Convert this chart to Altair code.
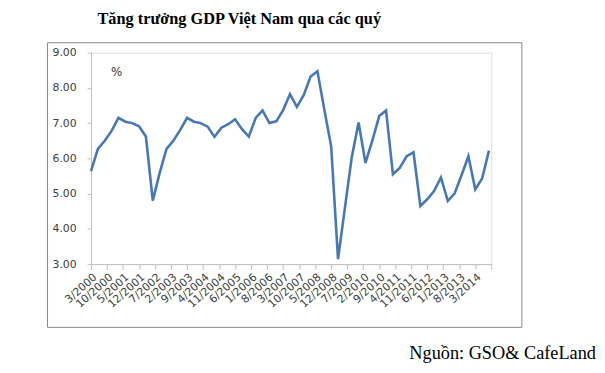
import json
import altair as alt
import pandas as pd

# Quarterly GDP growth (%), Q1/2000 .. Q3/2014
YEARS = list(range(2000, 2015))
VALUES = [5.64, 6.27, 6.50, 6.78, 7.15, 7.04, 7.00, 6.91, 6.62, 4.80,
          5.58, 6.27, 6.50, 6.81, 7.15, 7.04, 7.00, 6.90, 6.61, 6.87,
          6.97, 7.11, 6.83, 6.62, 7.15, 7.36, 7.00, 7.05, 7.37, 7.82,
          7.46, 7.79, 8.32, 8.47, 7.39, 6.34, 3.14, 4.59, 6.03, 7.02,
          5.87, 6.50, 7.20, 7.36, 5.55, 5.73, 6.06, 6.17, 4.65, 4.84,
          5.07, 5.46, 4.79, 5.01, 5.52, 6.06, 5.12, 5.43, 6.22]
TICK_LABELS = ["3/2000", "10/2000", "5/2001", "12/2001", "7/2002", "2/2003",
               "9/2003", "4/2004", "11/2004", "6/2005", "1/2006", "8/2006",
               "3/2007", "10/2007", "5/2008", "12/2008", "7/2009", "2/2010",
               "9/2010", "4/2011", "11/2011", "6/2012", "1/2013", "8/2013",
               "3/2014"]
TITLE = "Tăng trưởng GDP Việt Nam qua các quý"
SOURCE = "Nguồn: GSO& CafeLand"
UNIT = "%"

quarters = [f"Q{q}/{y}" for y in YEARS for q in range(1, 5)][:len(VALUES)]
# month offset from March 2000 (end month of each quarter)
months = [3 * i for i in range(len(VALUES))]
df = pd.DataFrame({"quarter": quarters, "m": months, "gdp": VALUES})

W, H = 405, 214
tick_vals = [7 * i for i in range(len(TICK_LABELS) + 1)]
label_expr = f"{json.dumps(TICK_LABELS)}[round(datum.value / 7)] || ''"

frame = alt.Chart(pd.DataFrame({"a": [0]})).mark_rect(
    fillOpacity=0, stroke="#888888", strokeWidth=1
).encode(x=alt.value(-44), x2=alt.value(436), y=alt.value(-10), y2=alt.value(278))

line = alt.Chart(df).mark_line(color="#4678B8", strokeWidth=2.6).encode(
    x=alt.X("m:Q",
            scale=alt.Scale(domain=[0, 175], nice=False, zero=False),
            axis=alt.Axis(values=tick_vals, labelExpr=label_expr, title=None,
                          grid=False, labelAngle=-42, labelFont="DejaVu Sans",
                          labelFontSize=11, labelColor="#404040",
                          domainColor="#BFBFBF", tickColor="#BFBFBF",
                          tickSize=5, labelPadding=2, labelOverlap=False,
                          labelFlush=False)),
    y=alt.Y("gdp:Q",
            scale=alt.Scale(domain=[3, 9], nice=False, zero=False),
            axis=alt.Axis(values=[3, 4, 5, 6, 7, 8, 9], format=".2f", title=None,
                          grid=False, labelFont="DejaVu Sans", labelFontSize=11,
                          labelColor="#404040", domainColor="#BFBFBF",
                          tickColor="#BFBFBF", tickSize=4, labelPadding=11)),
)

unit = alt.Chart(pd.DataFrame({"t": [UNIT]})).mark_text(
    font="DejaVu Sans", fontSize=12, color="#404040", baseline="middle", align="center"
).encode(x=alt.value(26), y=alt.value(20), text="t:N")

title = alt.Chart(pd.DataFrame({"t": [TITLE]})).mark_text(
    font="Liberation Serif", fontSize=16.5, fontWeight="bold", color="#000000",
    baseline="alphabetic", align="center"
).encode(x=alt.value(150), y=alt.value(-29), text="t:N")

source = alt.Chart(pd.DataFrame({"t": [SOURCE]})).mark_text(
    font="Liberation Serif", fontSize=18.5, color="#000000",
    baseline="alphabetic", align="right"
).encode(x=alt.value(511), y=alt.value(310), text="t:N")

chart = alt.layer(frame, line, unit, title, source).properties(
    width=W, height=H,
    autosize=alt.AutoSizeParams(type="none"),
    padding={"left": 84, "top": 43, "right": 107, "bottom": 105},
).configure_view(strokeWidth=0).configure(background="white")

chart.save("out.html", embed_options={"renderer": "svg", "actions": False})
